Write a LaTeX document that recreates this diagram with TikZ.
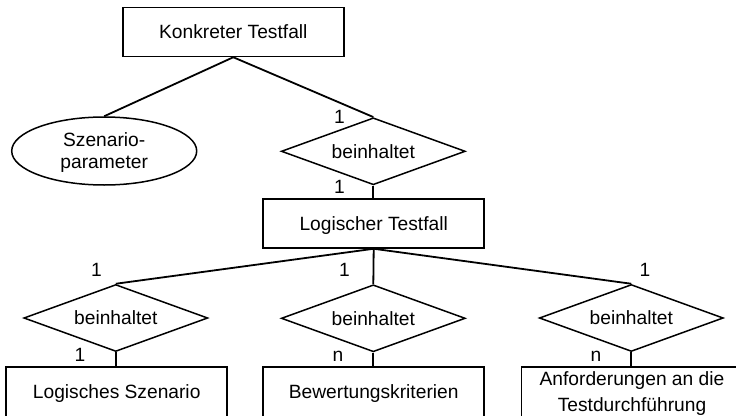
\documentclass[tikz,border=0pt]{standalone}
\usepackage{fontspec}
\setmainfont{Liberation Sans}
\usetikzlibrary{shapes.geometric}
\begin{document}
\begin{tikzpicture}[x=1pt,y=-1pt,
  every node/.style={font=\fontsize{19.2}{22}\selectfont, inner sep=0pt},
  oneline/.style={text height=13.5pt, text depth=0pt},
  entity/.style={draw, line width=1.5pt, rectangle, minimum width=221pt, minimum height=49pt},
  lowentity/.style={entity, minimum height=54pt},
  relation/.style={draw, line width=1.5pt, diamond, aspect=2.75, oneline, minimum width=184pt, minimum height=67pt},
  attribute/.style={draw, line width=1.5pt, ellipse, minimum width=185pt, minimum height=68pt, align=center},
  link/.style={line width=1.8pt},
  card/.style={anchor=base}]
\useasboundingbox (0,0) rectangle (736,415);
\clip (0,0) rectangle (736,415);

% entities
\node[entity, oneline] (kt) at (233.3,32) {Konkreter Testfall};
\node[entity, oneline] (lt) at (373.7,223.5) {Logischer Testfall};
\node[lowentity, text height=13.5pt, text depth=5pt] (ls) at (116.7,394) {Logisches Szenario};
\node[lowentity, text height=13.5pt, text depth=5pt] (bk) at (373.7,394) {Bewertungskriterien};
\node[lowentity, align=center, text depth=5pt,
      font=\fontsize{19.2}{26.7}\selectfont] (at) at (632,394)
      {Anforderungen an die\\Testdurchführung};

% attribute
\node[attribute, text depth=-7.5pt] (sp) at (104.2,151) {Szenario-\\parameter};

% relations
\node[relation] (d1) at (373.3,151.3) {beinhaltet};
\node[relation] (d2) at (115.8,318) {beinhaltet};
\node[relation] (d3) at (373.3,318.3) {beinhaltet};
\node[relation] (d4) at (631.3,318) {beinhaltet};

% connectors
\draw[link] (kt.south) -- (sp.north);
\draw[link] (kt.south) -- (d1.north);
\draw[link] (d1.south) -- (d1.south |- lt.north);
\draw[link] (lt.south) -- (d2.north);
\draw[link] (lt.south) -- (d3.north);
\draw[link] (lt.south) -- (d4.north);
\draw[link] (d2.south) -- (d2.south |- ls.north);
\draw[link] (d3.south) -- (d3.south |- bk.north);
\draw[link] (d4.south) -- (d4.south |- at.north);

% cardinalities
\node[card] (c1) at (339.5,123.3) {1};
\node[card] (c2) at (339.5,193.3) {1};
\node[card] (c3) at (96.5,276.7) {1};
\node[card] (c4) at (344.5,276.7) {1};
\node[card] (c5) at (645,276.7) {1};
\node[card] (c6) at (80,361.7) {1};
\node[card] (c7) at (338,361.7) {n};
\node[card] (c8) at (596,361.7) {n};
\end{tikzpicture}
\end{document}
